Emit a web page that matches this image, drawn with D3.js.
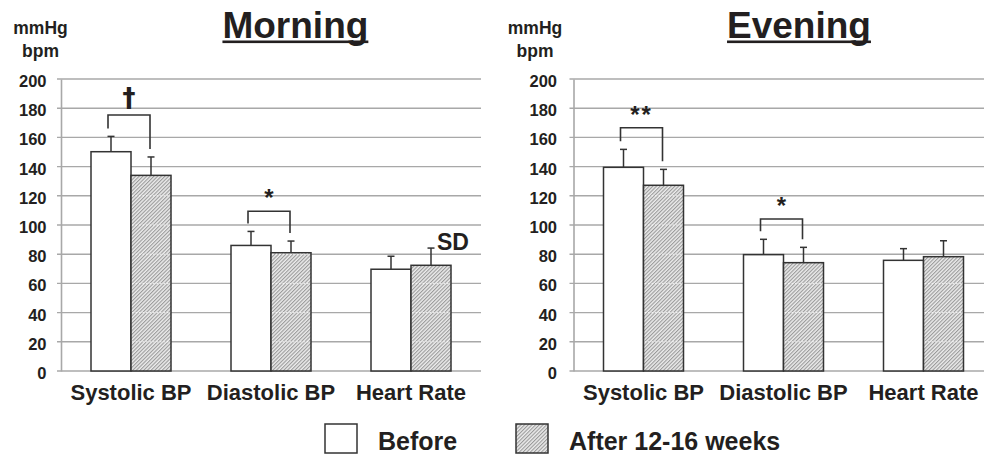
<!DOCTYPE html>
<html>
<head>
<meta charset="utf-8">
<script src="https://cdn.jsdelivr.net/npm/d3@7"></script>
<style>
  html, body { margin: 0; padding: 0; background: #fff; }
  svg { display: block; font-family: "Liberation Sans", Arial, Helvetica, sans-serif; font-weight: bold; }
</style>
</head>
<body>
<svg id="chart" width="984" height="455"></svg>
<script>
// ---------- data ----------
const categories = ["Systolic BP", "Diastolic BP", "Heart Rate"];
const groups = ["Before", "After 12-16 weeks"];
const yTicks = [0, 20, 40, 60, 80, 100, 120, 140, 160, 180, 200];

const morningBefore   = [150.2, 86.0, 69.7];
const morningBeforeSD = [10.5, 9.6, 8.9];
const morningAfter    = [134.0, 81.0, 72.4];
const morningAfterSD  = [12.6, 8.0, 11.8];

const eveningBefore   = [139.5, 79.7, 75.8];
const eveningBeforeSD = [12.3, 10.5, 8.0];
const eveningAfter    = [127.2, 74.2, 78.3];
const eveningAfterSD  = [10.9, 10.5, 10.9];

const morningSigCats   = ["Systolic BP", "Diastolic BP"];
const morningSigMarks  = ["\u2020", "*"];
const morningSigLevels = [175.3, 109.4];

const eveningSigCats   = ["Systolic BP", "Diastolic BP"];
const eveningSigMarks  = ["**", "*"];
const eveningSigLevels = [166.6, 104.1];

// ---------- drawing ----------
const svg = d3.select("#chart");
const ink = "#231f20";
const gridColor = "#a8a8a8";

const defs = svg.append("defs");
const pat = defs.append("pattern")
  .attr("id", "hatch")
  .attr("patternUnits", "userSpaceOnUse")
  .attr("width", 2.6).attr("height", 2.6)
  .attr("patternTransform", "rotate(45)");
pat.append("rect").attr("width", 2.6).attr("height", 2.6).attr("fill", "#ececec");
pat.append("rect").attr("width", 1.1).attr("height", 2.6).attr("fill", "#9a9a9a");

const y = d3.scaleLinear().domain([0, 200]).range([371, 79]);

function drawPanel(cfg) {
  const g = svg.append("g");
  const x = d3.scaleBand().domain(categories).range([cfg.axisX, cfg.axisX + 420]).padding(0);
  const xs = d3.scaleBand().domain(groups).range([0, x.bandwidth()]).paddingInner(0).paddingOuter(0.75);

  // gridlines
  g.append("g").selectAll("line").data(yTicks).join("line")
    .attr("x1", cfg.axisX - 4).attr("x2", cfg.axisX + 420)
    .attr("y1", d => y(d)).attr("y2", d => y(d))
    .attr("stroke", gridColor).attr("stroke-width", 1.4);

  // y axis
  const axis = d3.axisLeft(y).tickValues(yTicks).tickSize(0).tickPadding(cfg.tickPad);
  const ag = g.append("g").attr("transform", `translate(${cfg.axisX},0)`).call(axis);
  ag.select(".domain").attr("stroke", gridColor).attr("stroke-width", 1.6);
  ag.selectAll("text").attr("font-size", 16.5).attr("font-weight", "bold")
    .attr("font-family", "Liberation Sans, Arial, sans-serif").attr("fill", ink).attr("dy", "0.46em");

  // bars
  const rows = categories.map((c, i) => ({
    cat: c,
    vals: [
      {grp: groups[0], v: cfg.before[i], sd: cfg.beforeSD[i]},
      {grp: groups[1], v: cfg.after[i], sd: cfg.afterSD[i]}
    ]
  }));

  const cg = g.append("g").selectAll("g").data(rows).join("g")
    .attr("transform", d => `translate(${x(d.cat)},0)`);

  // error bars (behind bars)
  cg.selectAll("g.err").data(d => d.vals).join("g").attr("class", "err").each(function(d) {
    const cx = xs(d.grp) + xs.bandwidth() / 2;
    const e = d3.select(this);
    e.append("line").attr("x1", cx).attr("x2", cx).attr("y1", y(d.v)).attr("y2", y(d.v + d.sd))
      .attr("stroke", "#333").attr("stroke-width", 1.5);
    e.append("line").attr("x1", cx - 3.5).attr("x2", cx + 3.5).attr("y1", y(d.v + d.sd)).attr("y2", y(d.v + d.sd))
      .attr("stroke", "#333").attr("stroke-width", 1.5);
  });

  cg.selectAll("rect.bar").data(d => d.vals).join("rect").attr("class", "bar")
    .attr("x", d => xs(d.grp)).attr("width", xs.bandwidth())
    .attr("y", d => y(d.v)).attr("height", d => y(0) - y(d.v))
    .attr("fill", (d, i) => i === 0 ? "#fff" : "url(#hatch)")
    .attr("stroke", "#333").attr("stroke-width", 1.5);

  // faint dotted gridlines within hatched bars
  cg.each(function(d) {
    const a = d.vals[1];
    const x0 = xs(a.grp), x1 = x0 + xs.bandwidth();
    d3.select(this).append("g").selectAll("line").data(yTicks.filter(t => t > 0 && t < a.v)).join("line")
      .attr("x1", x0 + 1).attr("x2", x1 - 1).attr("y1", t => y(t)).attr("y2", t => y(t))
      .attr("stroke", "#fff").attr("stroke-width", 1).attr("stroke-dasharray", "1.5,2").attr("opacity", 0.8);
  });

  // significance brackets
  cfg.sigCats.forEach((c, k) => {
    const i = categories.indexOf(c);
    const bx = x(c) + xs(groups[0]) + xs.bandwidth() / 2 - 3;
    const ax = x(c) + xs(groups[1]) + xs.bandwidth() / 2 - 1;
    const top = y(cfg.sigLevels[k]);
    const lb = y(cfg.before[i] + cfg.beforeSD[i]) - 8;
    const rb = y(cfg.after[i] + cfg.afterSD[i]) - 8;
    g.append("path").attr("d", `M${bx},${lb}V${top}H${ax}V${rb}`)
      .attr("fill", "none").attr("stroke", "#333").attr("stroke-width", 1.6);
    const mark = cfg.sigMarks[k];
    const isDagger = mark === "\u2020";
    g.append("text").attr("x", (bx + ax) / 2).attr("y", top - (isDagger ? 8 : 5))
      .attr("text-anchor", "middle")
      .attr("font-family", isDagger ? "DejaVu Sans, sans-serif" : null)
      .attr("font-size", isDagger ? 26 : 24)
      .attr("letter-spacing", mark === "**" ? 2 : 0)
      .attr("fill", ink).text(mark);
  });

  // category labels
  g.append("g").selectAll("text").data(categories).join("text")
    .attr("x", d => x(d) + x.bandwidth() / 2).attr("y", 400)
    .attr("text-anchor", "middle").attr("font-size", 22).attr("fill", ink).text(d => d);

  // unit labels
  g.append("text").attr("x", cfg.unitX).attr("y", 34.3).attr("text-anchor", "middle")
    .attr("font-size", 17.5).attr("fill", ink).text("mmHg");
  g.append("text").attr("x", cfg.unitX).attr("y", 56.7).attr("text-anchor", "middle")
    .attr("font-size", 17.5).attr("fill", ink).text("bpm");

  // title with underline
  const t = g.append("text").attr("x", cfg.titleX).attr("y", 37.5).attr("text-anchor", "middle")
    .attr("font-size", 37).attr("fill", ink).text(cfg.title);
  const w = t.node().getComputedTextLength();
  g.append("rect").attr("x", cfg.titleX - w / 2).attr("y", 40.5).attr("width", w).attr("height", 2.6).attr("fill", ink);
}

drawPanel({
  title: "Morning", axisX: 61, titleX: 295.4, unitX: 40.5, tickPad: 14.5,
  before: morningBefore, beforeSD: morningBeforeSD, after: morningAfter, afterSD: morningAfterSD,
  sigCats: morningSigCats, sigMarks: morningSigMarks, sigLevels: morningSigLevels
});
drawPanel({
  title: "Evening", axisX: 573.5, titleX: 799, unitX: 535, tickPad: 16.5,
  before: eveningBefore, beforeSD: eveningBeforeSD, after: eveningAfter, afterSD: eveningAfterSD,
  sigCats: eveningSigCats, sigMarks: eveningSigMarks, sigLevels: eveningSigLevels
});

// SD note
svg.append("text").attr("x", 437).attr("y", 250).attr("font-size", 23).attr("fill", ink).text("SD");

// legend
const legendX = [325, 516];
const legendFill = ["#fff", "url(#hatch)"];
const lg = svg.append("g").selectAll("g").data(groups).join("g");
lg.append("rect").attr("x", (d, i) => legendX[i]).attr("y", 424).attr("width", 32).attr("height", 29)
  .attr("fill", (d, i) => legendFill[i]).attr("stroke", "#333").attr("stroke-width", 1.5);
lg.append("text").attr("x", (d, i) => legendX[i] + 53).attr("y", 450).attr("font-size", 25)
  .attr("fill", ink).text(d => d);
</script>
</body>
</html>
